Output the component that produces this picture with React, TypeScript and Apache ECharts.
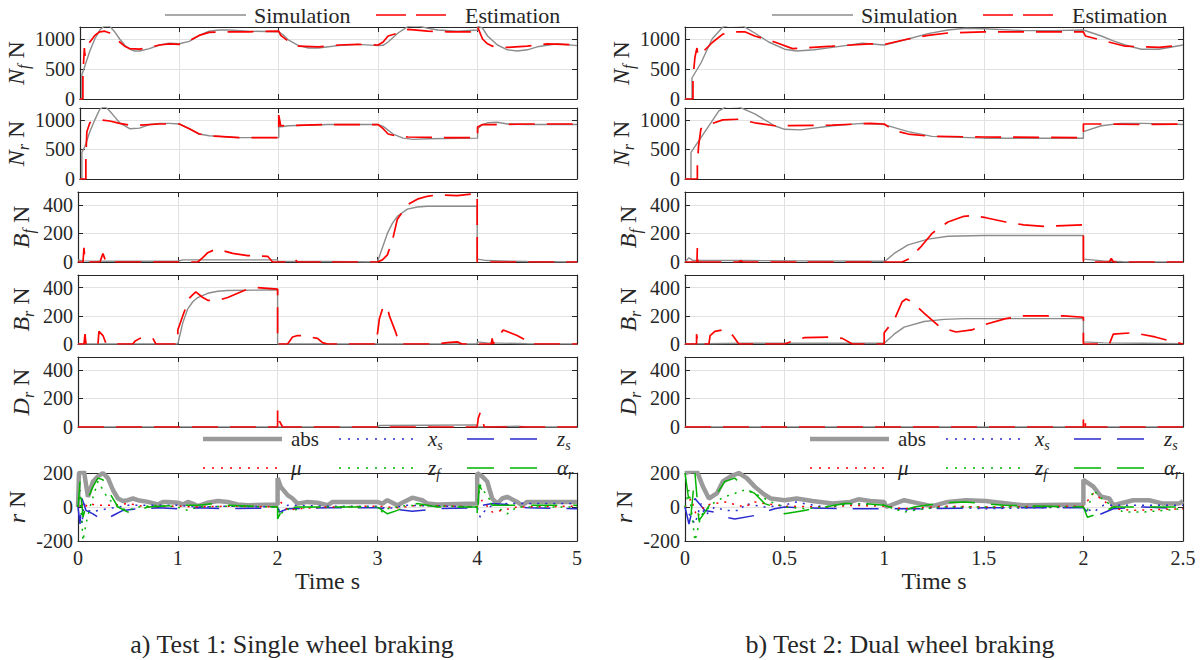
import React, { useEffect, useRef } from 'react';
import * as echarts from 'echarts';

type P = [number, number][];

// ---------- Test 1 (single wheel braking), time 0..5 s ----------
const t1NfSim: P = [[0,0],[0.02,0],[0.02,400],[0.06,600],[0.1,800],[0.15,1000],[0.2,1150],[0.25,1220],[0.3,1210],[0.35,1120],[0.4,1000],[0.45,900],[0.5,830],[0.55,800],[0.6,800],[0.7,840],[0.8,900],[0.9,930],[1.0,920],[1.1,960],[1.2,1060],[1.3,1130],[1.4,1150],[1.5,1150],[1.7,1130],[2.0,1120],[2.05,1060],[2.1,980],[2.2,890],[2.3,850],[2.4,850],[2.5,870],[2.6,890],[2.8,910],[3.0,890],[3.05,895],[3.1,950],[3.2,1100],[3.3,1210],[3.4,1220],[3.5,1180],[3.6,1150],[3.8,1130],[4.0,1150],[4.0,1220],[4.05,1180],[4.1,1050],[4.2,900],[4.3,820],[4.4,800],[4.5,820],[4.6,870],[4.8,920],[5.0,890]];
const t1NfEst: P = [[0,0],[0.03,0],[0.03,380],[0.04,700],[0.045,850],[0.05,720],[0.06,850],[0.1,950],[0.15,1060],[0.2,1120],[0.25,1130],[0.3,1100],[0.35,1030],[0.4,950],[0.45,880],[0.5,840],[0.6,830],[0.7,860],[0.8,900],[0.9,920],[1.0,910],[1.1,970],[1.2,1060],[1.3,1110],[1.5,1120],[1.7,1120],[2.0,1130],[2.02,1060],[2.1,960],[2.2,880],[2.4,870],[2.6,900],[2.8,910],[3.0,900],[3.05,950],[3.1,1050],[3.2,1100],[3.3,1160],[3.5,1130],[3.7,1120],[4.0,1120],[4.0,1200],[4.05,1000],[4.1,920],[4.15,880],[4.3,860],[4.5,880],[4.7,920],[5.0,900]];
const t1NrSim: P = [[0,0],[0.02,0],[0.02,450],[0.05,550],[0.1,800],[0.15,1000],[0.2,1180],[0.25,1230],[0.3,1150],[0.35,1050],[0.4,950],[0.5,850],[0.6,860],[0.7,920],[0.8,940],[0.9,940],[1.0,930],[1.1,850],[1.2,760],[1.3,730],[1.4,720],[1.6,700],[2.0,700],[2.0,880],[2.1,900],[2.5,920],[3.0,920],[3.05,890],[3.15,760],[3.25,690],[3.35,670],[3.5,680],[4.0,690],[4.0,850],[4.05,920],[4.1,950],[4.2,960],[4.3,930],[4.5,920],[5.0,920]];
const t1NrEst: P = [[0,0],[0.06,0],[0.06,350],[0.065,350],[0.07,800],[0.1,950],[0.15,990],[0.2,1000],[0.3,980],[0.4,940],[0.5,910],[0.6,910],[0.8,930],[1.0,930],[1.1,850],[1.2,760],[1.3,730],[1.4,720],[1.6,700],[2.0,700],[2.0,1080],[2.02,900],[2.5,920],[3.0,920],[3.05,850],[3.1,760],[3.2,720],[3.3,710],[3.6,700],[4.0,700],[4.0,880],[4.05,920],[4.2,920],[4.5,930],[5.0,930]];
const t1BfSim: P = [[0,15],[0.05,8],[0.3,5],[1.0,5],[1.05,15],[2.0,15],[2.0,5],[2.5,3],[3.0,0],[3.05,100],[3.1,200],[3.15,270],[3.2,320],[3.3,370],[3.4,385],[3.5,390],[4.0,390],[4.0,20],[4.1,10],[4.5,3],[5.0,0]];
const t1BfEst: P = [[0,0],[0.05,0],[0.06,100],[0.07,0],[0.22,0],[0.25,60],[0.28,0],[1.2,0],[1.25,30],[1.3,65],[1.38,90],[1.45,80],[1.55,60],[1.7,45],[1.9,40],[1.95,0],[2.15,0],[2.17,20],[2.2,0],[2.5,0],[2.52,10],[2.55,0],[3.0,0],[3.05,15],[3.1,50],[3.15,150],[3.2,300],[3.25,350],[3.3,400],[3.4,440],[3.5,460],[3.6,470],[3.8,465],[4.0,480],[4.0,0],[5.0,0]];
const t1BrSim: P = [[0,0],[1.0,0],[1.05,150],[1.1,250],[1.15,300],[1.2,330],[1.3,360],[1.4,375],[1.5,380],[2.0,385],[2.0,0],[4.0,0],[4.0,15],[4.1,8],[4.5,2],[5.0,0]];
const t1BrEst: P = [[0,0],[0.06,0],[0.07,70],[0.08,0],[0.2,0],[0.21,90],[0.25,60],[0.28,5],[0.3,0],[0.55,0],[0.57,20],[0.62,40],[0.7,45],[0.75,40],[0.78,0],[1.0,0],[1.0,100],[1.06,220],[1.12,330],[1.18,370],[1.25,330],[1.3,310],[1.4,310],[1.5,330],[1.6,360],[1.7,390],[1.8,400],[2.0,390],[2.0,0],[2.1,0],[2.15,50],[2.2,60],[2.25,60],[2.4,40],[2.45,10],[2.5,0],[3.0,0],[3.0,70],[3.02,180],[3.06,270],[3.1,260],[3.12,200],[3.18,90],[3.22,0],[3.6,0],[3.7,10],[3.8,15],[3.85,0],[4.14,0],[4.15,40],[4.16,0],[4.26,100],[4.4,60],[4.48,30],[4.52,0],[5.0,0]];
const t1DrSim: P = [[0,0],[3.0,0],[3.02,10],[3.5,12],[4.0,15],[4.0,0],[4.4,5],[4.5,0],[5.0,0]];
const t1DrEst: P = [[0,0],[2.0,0],[2.0,120],[2.02,40],[2.05,0],[4.0,0],[4.01,60],[4.03,100],[4.05,60],[4.07,0],[5.0,0]];
const t1Abs: P = [[0,0],[0.01,200],[0.06,210],[0.1,60],[0.15,150],[0.2,180],[0.25,200],[0.3,170],[0.35,100],[0.4,50],[0.45,35],[0.5,40],[0.55,50],[0.6,40],[0.7,30],[0.8,15],[0.85,30],[0.9,30],[1.0,25],[1.05,15],[1.1,30],[1.15,20],[1.2,5],[1.3,25],[1.4,35],[1.5,30],[1.6,15],[1.7,10],[2.0,15],[2.0,170],[2.03,120],[2.1,70],[2.15,50],[2.2,20],[2.3,30],[2.4,25],[2.5,10],[2.55,30],[3.0,30],[3.05,20],[3.1,40],[3.2,10],[3.3,40],[3.35,55],[3.45,40],[3.5,20],[3.6,15],[4.0,20],[4.0,200],[4.05,180],[4.1,150],[4.15,50],[4.2,20],[4.25,50],[4.3,60],[4.4,30],[4.45,10],[4.5,30],[5.0,30]];
const t1Xs: P = [[0,0],[0.02,100],[0.04,-100],[0.06,20],[0.1,-20],[0.15,-30],[0.2,-20],[0.3,-10],[0.5,10],[0.7,10],[1.0,10],[1.2,0],[1.5,5],[2.0,0],[2.03,-40],[2.06,-10],[2.1,10],[2.5,5],[3.0,5],[3.1,-10],[3.3,10],[4.0,0],[4.03,-60],[4.08,-20],[4.15,10],[4.3,20],[5.0,20]];
const t1Zs: P = [[0,0],[0.02,-100],[0.04,50],[0.08,-20],[0.15,-40],[0.2,-60],[0.27,-80],[0.35,-50],[0.45,-20],[0.6,-10],[0.8,-5],[1.0,-10],[1.2,-5],[1.5,-10],[2.0,-5],[2.02,-30],[2.1,-10],[2.5,-5],[3.0,-5],[3.2,-15],[3.35,-25],[3.6,-10],[4.0,-5],[4.05,10],[4.15,20],[4.3,15],[4.5,-5],[5.0,-10]];
const t1Mu: P = [[0,0],[0.03,30],[0.06,-10],[0.1,20],[0.2,10],[0.35,10],[0.5,20],[0.7,0],[1.0,5],[1.2,0],[1.5,5],[2.0,0],[2.03,30],[2.1,-20],[2.2,-10],[2.5,0],[3.0,5],[3.2,-5],[3.4,10],[4.0,0],[4.05,40],[4.15,-30],[4.25,-20],[4.4,0],[5.0,5]];
const t1Zf: P = [[0,0],[0.02,100],[0.05,-200],[0.08,-100],[0.12,0],[0.2,150],[0.25,100],[0.3,50],[0.4,0],[0.5,-20],[0.6,0],[0.8,10],[1.0,0],[1.1,-20],[1.2,0],[1.5,5],[2.0,0],[2.02,-50],[2.08,-10],[2.15,-20],[2.3,0],[3.0,0],[3.05,-30],[3.1,-10],[3.3,10],[4.0,0],[4.03,130],[4.1,60],[4.2,0],[4.3,-40],[4.4,0],[5.0,0]];
const t1Ar: P = [[0,0],[0.02,150],[0.05,-60],[0.1,50],[0.15,120],[0.2,170],[0.25,160],[0.3,100],[0.4,0],[0.5,-30],[0.6,-20],[0.7,0],[1.0,10],[1.2,10],[1.35,20],[1.5,10],[2.0,0],[2.0,-70],[2.05,-10],[2.2,0],[3.0,0],[3.05,-20],[3.1,-40],[3.2,-20],[3.3,10],[3.4,20],[3.6,0],[4.0,0],[4.0,-60],[4.02,130],[4.08,60],[4.15,10],[4.3,10],[5.0,10]];

// ---------- Test 2 (dual wheel braking), time 0..2.5 s ----------
const t2NfSim: P = [[0,0],[0.035,0],[0.035,350],[0.08,600],[0.136,1000],[0.19,1200],[0.22,1230],[0.29,1220],[0.35,1100],[0.42,950],[0.5,830],[0.56,800],[0.65,820],[0.74,860],[0.89,930],[1.0,900],[1.06,950],[1.12,1000],[1.22,1090],[1.32,1150],[1.41,1180],[1.5,1170],[1.7,1140],[1.85,1140],[2.0,1150],[2.09,1050],[2.15,970],[2.21,900],[2.29,830],[2.38,830],[2.5,900]];
const t2NfEst: P = [[0,0],[0.04,0],[0.04,350],[0.05,700],[0.06,850],[0.065,720],[0.07,720],[0.14,950],[0.19,1080],[0.24,1120],[0.3,1120],[0.35,1050],[0.45,950],[0.54,840],[0.74,880],[0.93,920],[1.0,910],[1.12,1000],[1.22,1060],[1.32,1100],[1.5,1120],[2.0,1120],[2.01,1050],[2.09,980],[2.21,880],[2.38,860],[2.5,900]];
const t2NrSim: P = [[0,0],[0.03,0],[0.03,450],[0.08,700],[0.14,1000],[0.17,1150],[0.21,1230],[0.27,1220],[0.35,1100],[0.45,900],[0.5,840],[0.58,830],[0.74,900],[0.89,940],[1.0,920],[1.12,800],[1.24,720],[1.5,690],[2.0,690],[2.0,800],[2.09,900],[2.19,940],[2.3,940],[2.5,920]];
const t2NrEst: P = [[0,0],[0.062,0],[0.062,250],[0.068,550],[0.08,850],[0.12,920],[0.19,1000],[0.27,1010],[0.35,950],[0.45,900],[0.74,910],[0.93,940],[1.0,930],[1.05,820],[1.12,760],[1.24,720],[1.5,710],[2.0,700],[2.0,930],[2.09,930],[2.3,920],[2.5,930]];
const t2BfSim: P = [[0,0],[0.02,30],[0.04,10],[0.3,10],[0.6,8],[1.0,5],[1.0,0],[1.05,60],[1.12,120],[1.22,160],[1.32,180],[1.5,185],[2.0,185],[2.0,20],[2.1,8],[2.2,2],[2.5,0]];
const t2BfEst: P = [[0,0],[0.06,0],[0.062,100],[0.065,0],[0.27,0],[0.28,10],[0.29,0],[0.56,0],[0.57,10],[0.58,0],[1.09,0],[1.12,20],[1.18,100],[1.24,200],[1.32,280],[1.4,320],[1.44,325],[1.51,310],[1.61,280],[1.7,260],[1.8,250],[1.9,255],[2.0,260],[2.0,0],[2.13,0],[2.14,25],[2.15,0],[2.5,0]];
const t2BrSim: P = [[0,0],[0.3,5],[1.0,5],[1.0,0],[1.05,70],[1.1,120],[1.2,160],[1.3,175],[1.4,180],[2.0,180],[2.0,15],[2.1,8],[2.3,5],[2.5,3]];
const t2BrEst: P = [[0,0],[0.058,0],[0.058,70],[0.065,0],[0.12,0],[0.126,60],[0.15,90],[0.19,100],[0.22,90],[0.24,60],[0.27,0],[0.5,0],[0.56,30],[0.6,45],[0.74,50],[0.79,40],[0.84,0],[1.0,0],[1.0,80],[1.05,170],[1.09,300],[1.11,320],[1.14,300],[1.2,220],[1.28,120],[1.36,85],[1.44,100],[1.51,140],[1.61,180],[1.7,200],[1.9,200],[2.0,190],[2.0,0],[2.13,0],[2.15,70],[2.25,80],[2.36,50],[2.44,20],[2.5,0]];
const t2DrSim: P = [[0,0],[2.5,0]];
const t2DrEst: P = [[0,0],[2.0,0],[2.0,75],[2.01,75],[2.01,0],[2.5,0]];
const t2Abs: P = [[0,200],[0.03,210],[0.06,210],[0.09,120],[0.12,50],[0.16,80],[0.19,150],[0.23,180],[0.27,200],[0.31,170],[0.35,120],[0.39,80],[0.43,50],[0.5,40],[0.56,50],[0.64,35],[0.74,20],[0.83,30],[0.87,45],[0.93,35],[1.0,30],[1.01,0],[1.1,40],[1.18,20],[1.24,5],[1.32,30],[1.41,40],[1.51,35],[1.7,10],[2.0,15],[2.0,160],[2.05,120],[2.09,60],[2.13,50],[2.15,10],[2.25,40],[2.33,40],[2.4,20],[2.48,20],[2.5,35]];
const t2Xs: P = [[0,0],[0.03,-60],[0.05,-100],[0.08,20],[0.1,-50],[0.15,0],[0.2,-20],[0.28,-20],[0.3,20],[0.4,0],[0.5,10],[0.55,30],[0.7,0],[0.85,20],[1.0,10],[1.1,-20],[1.2,-10],[1.3,0],[1.5,-10],[2.0,0],[2.05,-30],[2.1,10],[2.2,10],[2.5,10]];
const t2Zs: P = [[0,0],[0.02,-100],[0.05,50],[0.1,-20],[0.15,-30],[0.2,-60],[0.25,-70],[0.35,-50],[0.45,-10],[0.5,0],[0.6,-5],[0.8,-10],[1.0,-10],[1.2,-10],[1.5,-5],[2.0,-5],[2.05,-60],[2.15,-10],[2.3,0],[2.5,-10]];
const t2Mu: P = [[0,0],[0.03,50],[0.06,-60],[0.1,10],[0.2,30],[0.3,0],[0.35,30],[0.4,20],[0.5,5],[0.7,0],[0.85,10],[1.0,5],[1.1,-10],[1.3,5],[1.5,0],[2.0,5],[2.05,80],[2.1,40],[2.15,-10],[2.25,-20],[2.5,-10]];
const t2Zf: P = [[0,0],[0.02,100],[0.05,-200],[0.08,-50],[0.15,30],[0.2,60],[0.3,100],[0.35,80],[0.45,20],[0.5,0],[0.6,-10],[0.7,0],[0.85,20],[1.0,10],[1.1,-30],[1.2,-10],[1.3,0],[2.0,0],[2.02,-20],[2.05,100],[2.1,40],[2.2,-30],[2.3,-30],[2.5,-10]];
const t2Ar: P = [[0,200],[0.03,-50],[0.05,200],[0.07,-80],[0.1,-30],[0.15,60],[0.2,150],[0.25,170],[0.3,110],[0.35,80],[0.4,20],[0.45,0],[0.5,-40],[0.6,-20],[0.7,0],[0.8,20],[0.9,20],[1.0,10],[1.05,-10],[1.1,-20],[1.15,0],[1.3,25],[1.4,30],[1.6,10],[2.0,0],[2.02,-60],[2.1,-30],[2.15,0],[2.3,0],[2.5,0]];

// ---------- labels ----------
const yNames = ['{i|N}{s|f} N', '{i|N}{s|r} N', '{i|B}{s|f} N', '{i|B}{s|r} N', '{i|D}{s|r} N', '{i|r} N'];
const captions = ['a) Test 1: Single wheel braking', 'b) Test 2: Dual wheel braking'];
const topLegend = ['Simulation', 'Estimation'];
const rLegend = ['abs', '{i|x}{s|s}', '{i|z}{s|s}', '{i|μ}', '{i|z}{s|f}', '{i|α}{s|r}'];

const leftPairs = [[t1NfSim, t1NfEst], [t1NrSim, t1NrEst], [t1BfSim, t1BfEst], [t1BrSim, t1BrEst], [t1DrSim, t1DrEst]];
const rightPairs = [[t2NfSim, t2NfEst], [t2NrSim, t2NrEst], [t2BfSim, t2BfEst], [t2BrSim, t2BrEst], [t2DrSim, t2DrEst]];
const leftR = [t1Abs, t1Xs, t1Zs, t1Mu, t1Zf, t1Ar];
const rightR = [t2Abs, t2Xs, t2Zs, t2Mu, t2Zf, t2Ar];

// ---------- styling / layout ----------
const FONT = "'Liberation Serif', 'DejaVu Serif', serif";
const DARK = '#262626';
const GRIDC = '#e2e2e2';
const cols = [
  { left: 78, width: 499, xmax: 5, xint: 1 },
  { left: 685, width: 498, xmax: 2.5, xint: 0.5 },
];
const rows = [
  { top: 27, height: 72, min: 0, max: 1200, int: 500 },
  { top: 108, height: 71, min: 0, max: 1200, int: 500 },
  { top: 192, height: 70, min: 0, max: 490, int: 200 },
  { top: 275, height: 69, min: 0, max: 490, int: 200 },
  { top: 357, height: 70, min: 0, max: 490, int: 200 },
  { top: 473, height: 68, min: -200, max: 200, int: 200 },
];
const simStyle = { color: '#8c8c8c', width: 1.4, type: 'solid' as any };
const estStyle = { color: '#ff0000', width: 1.7, type: [26, 12] as any };
const rStyles = [
  { color: '#9a9a9a', width: 4.5, type: 'solid' as any },
  { color: '#2a2ad0', width: 1.5, type: [2, 6] as any },
  { color: '#2a2ad0', width: 1.5, type: [26, 16] as any },
  { color: '#ff0000', width: 1.5, type: [2, 6] as any },
  { color: '#00b400', width: 1.5, type: [2, 6] as any },
  { color: '#00b400', width: 1.5, type: [26, 16] as any },
];

function rich(base: number, sub: number, lh: number) {
  return {
    i: { fontFamily: FONT, fontStyle: 'italic', fontSize: base, lineHeight: lh, color: DARK, verticalAlign: 'middle' },
    s: { fontFamily: FONT, fontStyle: 'italic', fontSize: sub, lineHeight: lh, color: DARK, verticalAlign: 'bottom' },
  };
}

const plain = (v: number) => String(v);

function buildOption() {
  const grid: any[] = [];
  const xAxis: any[] = [];
  const yAxis: any[] = [];
  const series: any[] = [];
  const graphic: any[] = [];

  cols.forEach((c, ci) => {
    rows.forEach((r, ri) => {
      const g = grid.length;
      const bottom = ri === rows.length - 1;
      grid.push({ left: c.left, top: r.top, width: c.width, height: r.height, containLabel: false });
      const axLine = { show: true, onZero: false, lineStyle: { color: DARK, width: 1.2 } };
      const tick = { show: true, inside: true, length: 5, lineStyle: { color: DARK, width: 1 } };
      xAxis.push({
        type: 'value', gridIndex: g, min: 0, max: c.xmax, interval: c.xint, position: 'bottom',
        axisLine: axLine, axisTick: tick,
        axisLabel: { show: bottom, fontFamily: FONT, fontSize: 20, color: DARK, margin: 7, formatter: plain },
        splitLine: { show: true, lineStyle: { color: GRIDC, width: 1 } },
        name: bottom ? 'Time s' : '', nameLocation: 'middle', nameGap: 27,
        nameTextStyle: { fontFamily: FONT, fontSize: 24, color: DARK },
      });
      xAxis.push({
        type: 'value', gridIndex: g, min: 0, max: c.xmax, interval: c.xint, position: 'top',
        axisLine: axLine, axisTick: tick, axisLabel: { show: false }, splitLine: { show: false },
      });
      yAxis.push({
        type: 'value', gridIndex: g, min: r.min, max: r.max, interval: r.int, position: 'left',
        axisLine: axLine, axisTick: tick,
        axisLabel: { fontFamily: FONT, fontSize: 20, color: DARK, margin: 5, showMaxLabel: ri === rows.length - 1, formatter: plain },
        splitLine: { show: true, lineStyle: { color: GRIDC, width: 1 } },
        name: yNames[ri], nameLocation: 'middle', nameRotate: 90, nameGap: 42,
        nameTextStyle: { fontFamily: FONT, fontSize: 24, color: DARK, lineHeight: 30, rich: rich(24, 16, 30) },
      });
      yAxis.push({
        type: 'value', gridIndex: g, min: r.min, max: r.max, interval: r.int, position: 'right',
        axisLine: axLine, axisTick: tick, axisLabel: { show: false }, splitLine: { show: false },
      });
      const idx = g * 2;
      if (ri < 5) {
        const pair = (ci === 0 ? leftPairs : rightPairs)[ri];
        [simStyle, estStyle].forEach((st, k) => {
          series.push({
            type: 'line', name: topLegend[k], xAxisIndex: idx, yAxisIndex: idx, data: pair[k],
            showSymbol: false, symbol: 'none', silent: true, clip: true, z: 2 + k,
            lineStyle: { color: st.color, width: st.width, type: st.type },
            itemStyle: { color: st.color },
          });
        });
      } else {
        const list = ci === 0 ? leftR : rightR;
        list.forEach((d, k) => {
          const st = rStyles[k];
          series.push({
            type: 'line', xAxisIndex: idx, yAxisIndex: idx, data: d,
            showSymbol: false, symbol: 'none', silent: true, clip: true, z: 2 + k,
            lineStyle: { color: st.color, width: st.width, type: st.type },
            itemStyle: { color: st.color },
          });
        });
      }
    });

    const dx = c.left - 78;
    // top legend
    graphic.push({ type: 'line', shape: { x1: 165 + dx, y1: 15, x2: 246 + dx, y2: 15 }, style: { stroke: simStyle.color, lineWidth: 1.4 } });
    graphic.push({ type: 'text', x: 254 + dx, y: 15, style: { text: topLegend[0], fontFamily: FONT, fontSize: 22, fill: DARK, verticalAlign: 'middle', align: 'left' } });
    graphic.push({ type: 'line', shape: { x1: 376 + dx, y1: 15, x2: 446 + dx, y2: 15 }, style: { stroke: '#ff0000', lineWidth: 1.7, lineDash: [30, 10] } });
    graphic.push({ type: 'text', x: 465 + dx, y: 15, style: { text: topLegend[1], fontFamily: FONT, fontSize: 22, fill: DARK, verticalAlign: 'middle', align: 'left' } });
    // r legend
    const lx = [203, 339, 467];
    const tx = [291, 428, 557];
    const ly = [439, 468];
    rLegend.forEach((lab, k) => {
      const col = k % 3;
      const row = Math.floor(k / 3);
      const st = rStyles[k];
      const dash = Array.isArray(st.type) ? (st.type[0] > 5 ? [27, 16] : [2, 7]) : null;
      graphic.push({
        type: 'line', shape: { x1: lx[col] + dx, y1: ly[row], x2: lx[col] + 79 + dx, y2: ly[row] },
        style: { stroke: st.color, lineWidth: st.width, lineDash: dash },
      });
      graphic.push({
        type: 'text', x: tx[col] + dx, y: ly[row],
        style: { text: lab, fontFamily: FONT, fontSize: 21, fill: DARK, verticalAlign: 'middle', align: 'left', lineHeight: 26, rich: rich(21, 14, 26) },
      });
    });
    // caption
    graphic.push({
      type: 'text', x: ci === 0 ? 292 : 900, y: 644,
      style: { text: captions[ci], fontFamily: FONT, fontSize: 26, fill: DARK, align: 'center', verticalAlign: 'middle' },
    });
  });

  return {
    animation: false,
    backgroundColor: '#ffffff',
    grid, xAxis, yAxis, series, graphic,
  };
}

export default function App() {
  const ref = useRef<HTMLDivElement>(null);
  useEffect(() => {
    document.body.style.margin = '0';
    const chart = echarts.init(ref.current as HTMLDivElement, null, { renderer: 'svg' });
    chart.setOption(buildOption() as any);
    return () => chart.dispose();
  }, []);
  return <div ref={ref} style={{ width: 1202, height: 660, background: '#fff' }} />;
}
